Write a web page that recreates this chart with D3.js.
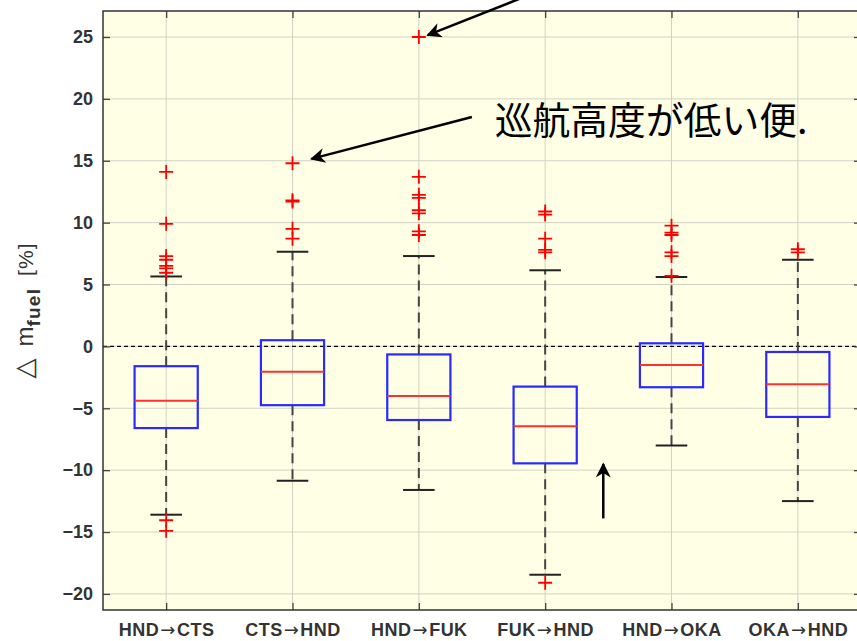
<!doctype html>
<html>
<head>
<meta charset="utf-8">
<script src="https://cdn.jsdelivr.net/npm/d3@7"></script>
<style>
  body { margin: 0; background: #fff; }
  svg { display: block; }
  .tick text { font-family: "Liberation Sans", Arial, sans-serif; }
</style>
</head>
<body>
<svg id="chart" width="857" height="641"></svg>
<script>
// routes and box statistics (percent)
var routes = ["HND\u2192CTS", "CTS\u2192HND", "HND\u2192FUK", "FUK\u2192HND", "HND\u2192OKA", "OKA\u2192HND"];
var q3 = [-1.6, 0.5, -0.65, -3.25, 0.25, -0.45];
var medians = [-4.4, -2.05, -4.0, -6.45, -1.5, -3.05];
var q1 = [-6.6, -4.75, -5.95, -9.45, -3.3, -5.7];
var whiskerHi = [5.65, 7.65, 7.3, 6.15, 5.6, 7.0];
var whiskerLo = [-13.6, -10.85, -11.6, -18.45, -8.0, -12.5];
var outliers = [
  [14.1, 9.9, 7.3, 7.0, 6.5, 6.3, 5.95, -14.05, -14.9],
  [14.8, 11.8, 11.7, 9.5, 8.7],
  [25.0, 13.7, 12.25, 12.0, 11.0, 10.75, 9.3, 9.0],
  [10.9, 10.65, 8.7, 7.8, 7.6, -19.1],
  [9.75, 9.2, 9.0, 7.6, 7.3, 5.7],
  [7.85, 7.6]
];
var yTicks = [-20, -15, -10, -5, 0, 5, 10, 15, 20, 25];
var note = "\u5de1\u822a\u9ad8\u5ea6\u304c\u4f4e\u3044\u4fbf.";

var svg = d3.select("#chart");
var pL = 103, pT = 11, pR = 861, pB = 610;

var x = d3.scaleLinear().domain([0.5, 6.5]).range([pL, pR]);
var y = d3.scaleLinear().domain([-21.3, 27.1]).range([pB, pT]);

// background
svg.append("rect").attr("x", pL).attr("y", pT)
  .attr("width", pR - pL).attr("height", pB - pT)
  .attr("fill", "#ffffe6");

// grid
var grid = svg.append("g").attr("stroke", "#d2d2c2").attr("stroke-width", 1);
yTicks.forEach(function(t){
  grid.append("line").attr("x1", pL).attr("x2", pR).attr("y1", y(t)).attr("y2", y(t));
});
routes.forEach(function(r, i){
  grid.append("line").attr("x1", x(i + 1)).attr("x2", x(i + 1)).attr("y1", pT).attr("y2", pB);
});

// zero line
svg.append("line").attr("x1", pL).attr("x2", pR).attr("y1", y(0)).attr("y2", y(0))
  .attr("stroke", "#000").attr("stroke-width", 1.3).attr("stroke-dasharray", "4,3");

// axes
var yAxis = d3.axisLeft(y).tickValues(yTicks).tickSize(-7).tickPadding(10)
  .tickFormat(function(d){ return d < 0 ? "\u2212" + Math.abs(d) : d; });
var ga = svg.append("g").attr("transform", "translate(" + pL + ",0)").call(yAxis);
ga.select(".domain").remove();
ga.selectAll(".tick line").attr("stroke", "#444").attr("stroke-width", 1.3);
ga.selectAll(".tick text").attr("font-size", 18).attr("font-weight", "bold").attr("fill", "#333");

var yAxisR = d3.axisRight(y).tickValues(yTicks).tickSize(-7).tickFormat("");
var gr = svg.append("g").attr("transform", "translate(" + pR + ",0)").call(yAxisR);
gr.select(".domain").remove();
gr.selectAll(".tick line").attr("stroke", "#444").attr("stroke-width", 1.3);

var xAxis = d3.axisBottom(x).tickValues(d3.range(1, routes.length + 1)).tickSize(-7).tickPadding(13)
  .tickFormat("");
var gx = svg.append("g").attr("transform", "translate(0," + pB + ")").call(xAxis);
gx.select(".domain").remove();
gx.selectAll(".tick line").attr("stroke", "#444").attr("stroke-width", 1.3);
gx.selectAll(".tick text").each(function(d){
  var parts = routes[d - 1].split("\u2192");
  var t = d3.select(this).attr("font-size", 18).attr("font-weight", "bold").attr("fill", "#333")
    .attr("letter-spacing", 0.5);
  t.append("tspan").text(parts[0]);
  t.append("tspan").attr("font-family", "'DejaVu Sans', sans-serif").attr("font-weight", "normal")
    .attr("font-size", 18).attr("dx", 1).text("\u2192");
  t.append("tspan").attr("dx", 1).text(parts[1]);
});

var xAxisT = d3.axisTop(x).tickValues(d3.range(1, routes.length + 1)).tickSize(-7).tickFormat("");
var gt = svg.append("g").attr("transform", "translate(0," + pT + ")").call(xAxisT);
gt.select(".domain").remove();
gt.selectAll(".tick line").attr("stroke", "#444").attr("stroke-width", 1.3);

// boxes
var bw = (x(2) - x(1)) / 4;
var cw = (x(2) - x(1)) / 8;
var g = svg.append("g");
routes.forEach(function(r, i){
  var cx = x(i + 1);
  // whiskers
  g.append("line").attr("x1", cx).attr("x2", cx).attr("y1", y(q3[i])).attr("y2", y(whiskerHi[i]))
    .attr("stroke", "#444").attr("stroke-width", 2).attr("stroke-dasharray", "10,6");
  g.append("line").attr("x1", cx).attr("x2", cx).attr("y1", y(q1[i])).attr("y2", y(whiskerLo[i]))
    .attr("stroke", "#444").attr("stroke-width", 2).attr("stroke-dasharray", "10,6");
  [whiskerHi[i], whiskerLo[i]].forEach(function(v){
    g.append("line").attr("x1", cx - cw).attr("x2", cx + cw).attr("y1", y(v)).attr("y2", y(v))
      .attr("stroke", "#222").attr("stroke-width", 2);
  });
  g.append("rect").attr("x", cx - bw).attr("y", y(q3[i]))
    .attr("width", 2 * bw).attr("height", y(q1[i]) - y(q3[i]))
    .attr("fill", "none").attr("stroke", "#2a2aff").attr("stroke-width", 2.2);
  g.append("line").attr("x1", cx - bw).attr("x2", cx + bw).attr("y1", y(medians[i])).attr("y2", y(medians[i]))
    .attr("stroke", "#ff3030").attr("stroke-width", 2);
  outliers[i].forEach(function(v){
    g.append("path").attr("d", "M" + (cx - 7) + "," + y(v) + "H" + (cx + 7) + "M" + cx + "," + (y(v) - 7) + "V" + (y(v) + 7))
      .attr("stroke", "#ff0000").attr("stroke-width", 1.8).attr("fill", "none");
  });
});

// frame
svg.append("path").attr("d", "M" + pR + "," + pT + "H" + pL + "V" + pB + "H" + pR)
  .attr("fill", "none").attr("stroke", "#333").attr("stroke-width", 1.5);

// annotations (data coordinates)
var defs = svg.append("defs");
defs.append("marker").attr("id", "ah").attr("viewBox", "0 0 10 10").attr("refX", 9).attr("refY", 5)
  .attr("markerWidth", 7).attr("markerHeight", 6).attr("orient", "auto").attr("markerUnits", "strokeWidth")
  .append("path").attr("d", "M0,0L10,5L0,10L3,5Z").attr("fill", "#000");

var arrows = [
  { from: [3.8, 28.1], to: [3.07, 25.15] },
  { from: [3.42, 18.53], to: [2.15, 15.15] },
  { from: [4.46, -13.9], to: [4.46, -9.5] }
];
arrows.forEach(function(a){
  svg.append("line").attr("x1", x(a.from[0])).attr("y1", y(a.from[1]))
    .attr("x2", x(a.to[0])).attr("y2", y(a.to[1]))
    .attr("stroke", "#000").attr("stroke-width", 2.5).attr("marker-end", "url(#ah)");
});

svg.append("text").attr("x", x(3.6)).attr("y", y(17.15))
  .attr("font-family", "'Noto Sans CJK JP', sans-serif").attr("font-size", 37.8).attr("fill", "#000")
  .text(note);

// y label
var yl = svg.append("text").attr("transform", "translate(33,310.5) rotate(-90)")
  .attr("text-anchor", "middle").attr("font-family", "'Liberation Sans', Arial, sans-serif")
  .attr("fill", "#333");
yl.append("tspan").attr("font-family", "'DejaVu Sans', sans-serif").attr("font-size", 26).text("\u25b3");
yl.append("tspan").attr("dx", 12).attr("font-size", 24).text("m");
yl.append("tspan").attr("dy", 7).attr("font-size", 19).attr("font-weight", "bold")
  .attr("letter-spacing", 1.2).text("fuel");
yl.append("tspan").attr("dy", -7).attr("dx", 12).attr("font-size", 21).attr("letter-spacing", 1).text("[%]");
</script>
</body>
</html>
